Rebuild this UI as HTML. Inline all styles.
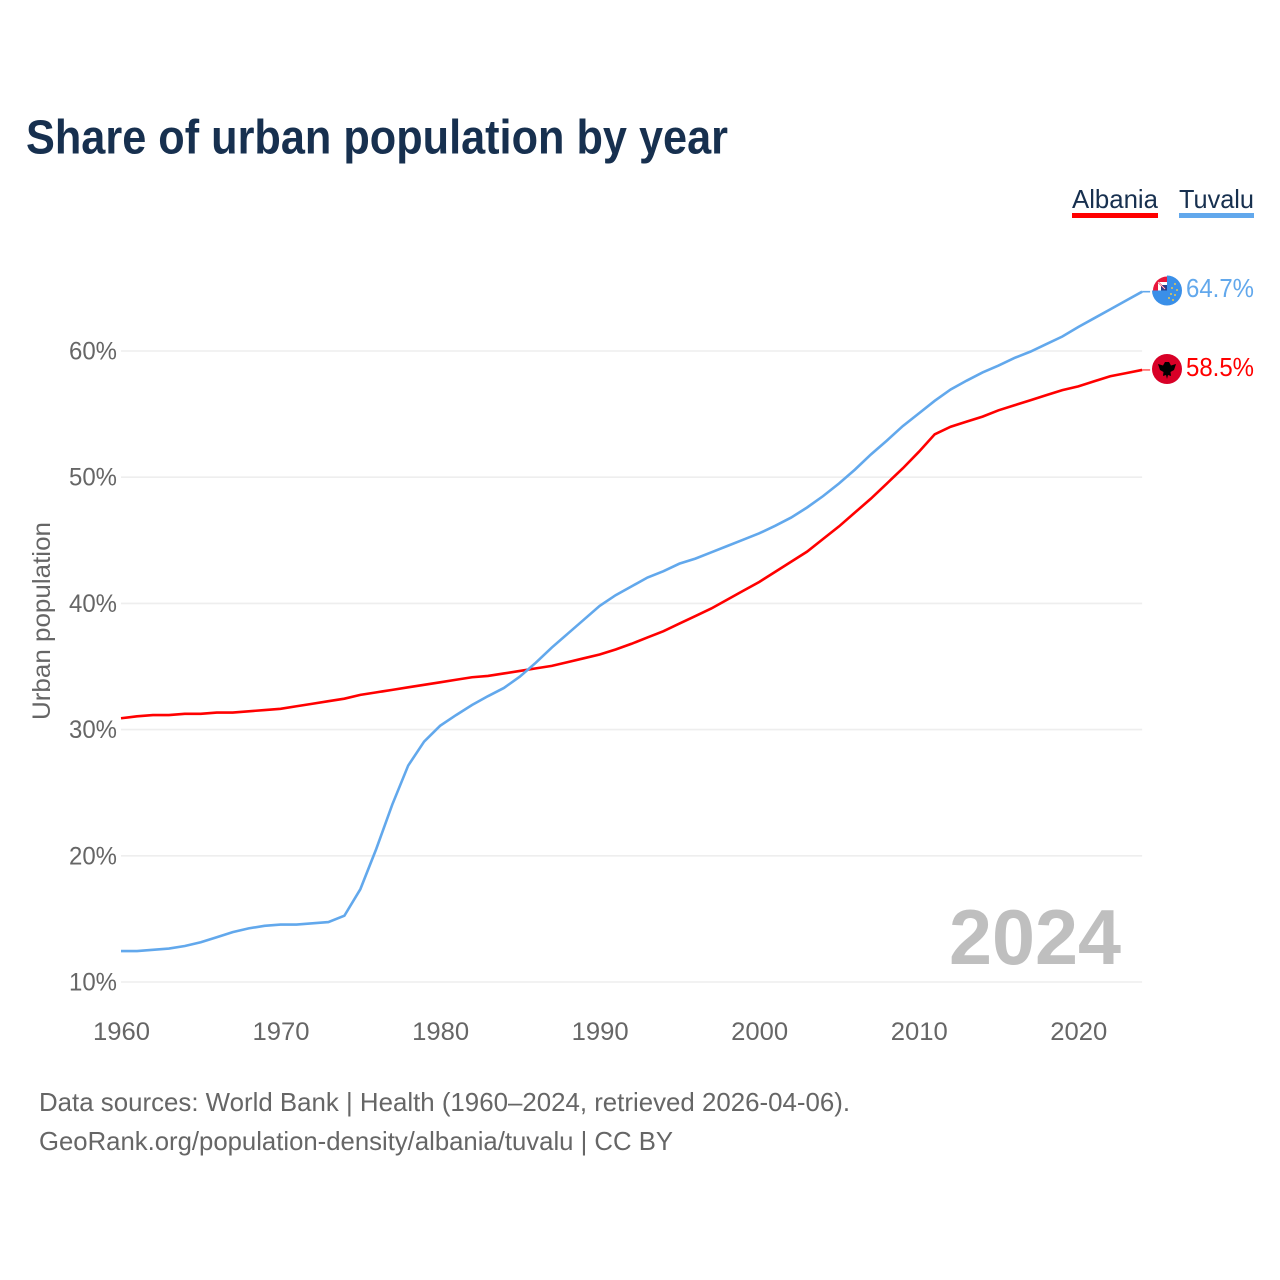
<!DOCTYPE html>
<html lang="en">
<head>
<meta charset="utf-8">
<title>Share of urban population by year</title>
<style>
html,body{margin:0;padding:0;background:#fff;}
svg{display:block;font-family:"Liberation Sans",sans-serif;}
</style>
</head>
<body>
<svg id="chart" xmlns="http://www.w3.org/2000/svg" width="1280" height="1280" viewBox="0 0 1280 1280">
  <rect x="0" y="0" width="1280" height="1280" fill="#ffffff"/>
  <text x="26" y="153.500" font-size="48" font-weight="700" fill="#17304f" textLength="702" lengthAdjust="spacingAndGlyphs">Share of urban population by year</text>

  <g>
    <g>
      <text x="1072" y="208" font-size="26" fill="#17304f" textLength="86" lengthAdjust="spacingAndGlyphs">Albania</text>
      <rect x="1072" y="213" width="86" height="5" fill="#ff0000"/>
    </g>
    <g>
      <text x="1179" y="208" font-size="26" fill="#17304f" textLength="75" lengthAdjust="spacingAndGlyphs">Tuvalu</text>
      <rect x="1179" y="213" width="75" height="5" fill="#62a8ec"/>
    </g>
  </g>

  <g id="grid"></g>
  <g id="yticks"></g>
  <g id="xticks"></g>

  <text transform="translate(50,621) rotate(-90)" text-anchor="middle" font-size="25" fill="#666666" textLength="198" lengthAdjust="spacingAndGlyphs">Urban population</text>

  <text x="949" y="964" font-size="78" font-weight="700" fill="#bfbfbf" textLength="172" lengthAdjust="spacingAndGlyphs">2024</text>

  <g id="series"></g>

  <defs>
    <clipPath id="flag-quadrant-tuvalu"><circle cx="1167" cy="290.500" r="14"/></clipPath>
  </defs>

  <g>
    <circle cx="1167" cy="290.500" r="15" fill="#3a8fe8"/>
    <rect x="1152" y="275" width="15" height="15.500" fill="#ffffff"/>
    <g clip-path="url(#flag-quadrant-tuvalu)">
      <rect x="1152" y="275" width="15" height="15.500" fill="#e8173c"/>
      <rect x="1158" y="282" width="9" height="8.500" fill="#ffffff"/>
      <path d="M1161 285 L1167 285 L1167 290.500 L1161 290.500 Z" fill="#24408f"/>
      <path d="M1158 282 L1165 289" stroke="#e8173c" stroke-width="1.500"/>
      <path d="M1158 282 L1165 289" stroke="#ffffff" stroke-width="0.600"/>
    </g>
    <circle cx="1175" cy="284" r="1" fill="#e9c84e"/>
    <circle cx="1172" cy="288" r="1" fill="#e9c84e"/>
    <circle cx="1177" cy="290" r="1" fill="#e9c84e"/>
    <circle cx="1171" cy="294" r="1" fill="#e9c84e"/>
    <circle cx="1175" cy="295" r="1" fill="#e9c84e"/>
    <circle cx="1169" cy="298" r="1" fill="#e9c84e"/>
    <circle cx="1173" cy="300" r="1" fill="#e9c84e"/>
  </g>
  <g>
    <circle cx="1167" cy="369" r="15" fill="#d80027"/>
    <path d="M1158 364 L1163 365.500 L1165 362 L1169 362 L1171 365.500 L1176 364 L1174 370 L1170.500 372 L1171 376 L1168 375 L1167 379 L1166 375 L1163 376 L1163.500 372 L1160 370 Z" fill="#000000"/>
  </g>

  <text id="label-tuvalu" x="1186" y="297" font-size="26" fill="#62a8ec" textLength="68" lengthAdjust="spacingAndGlyphs"></text>
  <text id="label-albania" x="1186" y="376" font-size="26" fill="#ff0000" textLength="68" lengthAdjust="spacingAndGlyphs"></text>

  <text x="39" y="1111" font-size="26" fill="#666666" textLength="811" lengthAdjust="spacingAndGlyphs">Data sources: World Bank | Health (1960–2024, retrieved 2026-04-06).</text>
  <text x="39" y="1150" font-size="26" fill="#666666" textLength="634" lengthAdjust="spacingAndGlyphs">GeoRank.org/population-density/albania/tuvalu | CC BY</text>
</svg>

<script>
var startYear = 1960;
var albaniaValues = [30.9,31.05,31.15,31.15,31.25,31.25,31.35,31.35,31.45,31.55,31.65,31.85,32.05,32.25,32.45,32.75,32.95,33.15,33.35,33.55,33.75,33.95,34.15,34.25,34.45,34.65,34.85,35.05,35.35,35.65,35.95,36.35,36.8,37.3,37.8,38.4,39.0,39.6,40.3,41.0,41.7,42.5,43.3,44.1,45.1,46.1,47.2,48.3,49.5,50.7,52.0,53.4,54.0,54.4,54.8,55.3,55.7,56.1,56.5,56.9,57.2,57.6,58.0,58.25,58.5];
var tuvaluValues = [12.45,12.45,12.55,12.65,12.85,13.15,13.55,13.95,14.25,14.45,14.55,14.55,14.65,14.75,15.25,17.35,20.55,24.05,27.15,29.05,30.3,31.15,31.95,32.65,33.3,34.2,35.3,36.5,37.6,38.7,39.8,40.65,41.35,42.05,42.55,43.15,43.55,44.05,44.55,45.05,45.55,46.15,46.8,47.6,48.5,49.5,50.6,51.8,52.9,54.05,55.05,56.05,56.95,57.65,58.3,58.85,59.45,59.95,60.55,61.15,61.9,62.6,63.3,64.0,64.7];
var yTickValues = [10,20,30,40,50,60];
var xTickValues = [1960,1970,1980,1990,2000,2010,2020];
var albaniaLabel = "58.5%";
var tuvaluLabel = "64.7%";

var NS = "http://www.w3.org/2000/svg";
function xScale(year) { return 121 + (year - 1960) * 15.955; }
function yScale(pct) { return 982 - (pct - 10) * 12.62; }

var gridGroup = document.getElementById("grid");
var yTickGroup = document.getElementById("yticks");
var xTickGroup = document.getElementById("xticks");
var seriesGroup = document.getElementById("series");

yTickValues.forEach(function (v) {
  var line = document.createElementNS(NS, "line");
  
  
  line.setAttribute("x1", xScale(1960));
  line.setAttribute("x2", xScale(2024));
  line.setAttribute("y1", yScale(v));
  line.setAttribute("y2", yScale(v));
  line.setAttribute("stroke", "#eeeeee");
  line.setAttribute("stroke-width", "1.6");
  gridGroup.appendChild(line);

  var label = document.createElementNS(NS, "text");
  
  
  label.setAttribute("x", 69);
  label.setAttribute("y", yScale(v) + 8.500);
  label.setAttribute("font-size", "25");
  label.setAttribute("fill", "#666666");
  label.setAttribute("textLength", "48");
  label.setAttribute("lengthAdjust", "spacingAndGlyphs");
  label.textContent = v + "%";
  yTickGroup.appendChild(label);
});

xTickValues.forEach(function (y) {
  var label = document.createElementNS(NS, "text");
  
  
  label.setAttribute("x", xScale(y) - 28);
  label.setAttribute("y", 1040);
  label.setAttribute("font-size", "25");
  label.setAttribute("fill", "#666666");
  label.setAttribute("textLength", "57");
  label.setAttribute("lengthAdjust", "spacingAndGlyphs");
  label.textContent = y;
  xTickGroup.appendChild(label);
});

function linePoints(values) {
  return values.map(function (v, i) {
    return xScale(startYear + i).toFixed(2) + "," + yScale(v).toFixed(2);
  }).join(" ");
}

var albaniaLine = document.createElementNS(NS, "polyline");


albaniaLine.setAttribute("points", linePoints(albaniaValues));
albaniaLine.setAttribute("fill", "none");
albaniaLine.setAttribute("stroke", "#ff0000");
albaniaLine.setAttribute("stroke-width", "2.6");
seriesGroup.appendChild(albaniaLine);

var tuvaluLine = document.createElementNS(NS, "polyline");


tuvaluLine.setAttribute("points", linePoints(tuvaluValues));
tuvaluLine.setAttribute("fill", "none");
tuvaluLine.setAttribute("stroke", "#62a8ec");
tuvaluLine.setAttribute("stroke-width", "2.6");
seriesGroup.appendChild(tuvaluLine);

var albaniaLast = albaniaValues[albaniaValues.length - 1];
var tuvaluLast = tuvaluValues[tuvaluValues.length - 1];

var albaniaStub = document.createElementNS(NS, "line");


albaniaStub.setAttribute("x1", xScale(2024));
albaniaStub.setAttribute("x2", xScale(2024) + 8);
albaniaStub.setAttribute("y1", yScale(albaniaLast));
albaniaStub.setAttribute("y2", yScale(albaniaLast));
albaniaStub.setAttribute("stroke", "#ff0000");
albaniaStub.setAttribute("stroke-opacity", "0.6");
albaniaStub.setAttribute("stroke-width", "1.6");
seriesGroup.appendChild(albaniaStub);

var tuvaluStub = document.createElementNS(NS, "line");


tuvaluStub.setAttribute("x1", xScale(2024));
tuvaluStub.setAttribute("x2", xScale(2024) + 8);
tuvaluStub.setAttribute("y1", yScale(tuvaluLast));
tuvaluStub.setAttribute("y2", yScale(tuvaluLast));
tuvaluStub.setAttribute("stroke", "#62a8ec");
tuvaluStub.setAttribute("stroke-width", "1.6");
seriesGroup.appendChild(tuvaluStub);

document.getElementById("label-albania").textContent = albaniaLabel;
document.getElementById("label-tuvalu").textContent = tuvaluLabel;
</script>
</body>
</html>
